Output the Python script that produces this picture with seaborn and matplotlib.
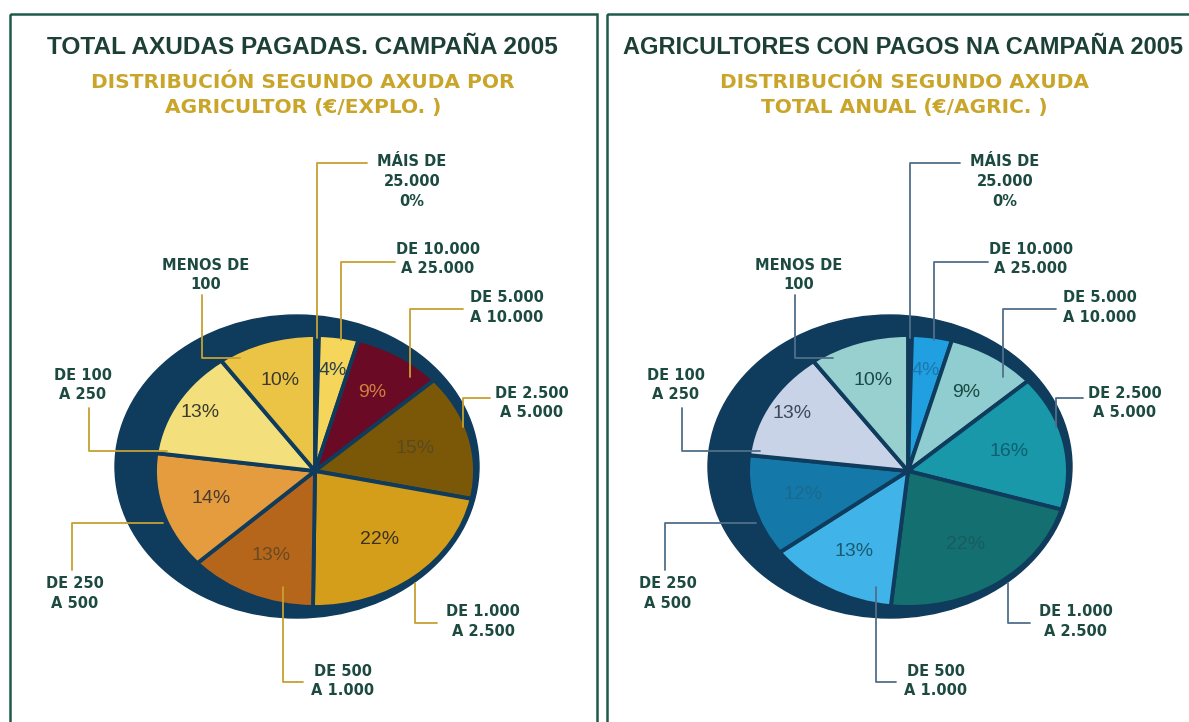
import numpy as np
import matplotlib
matplotlib.use("Agg")
import matplotlib.pyplot as plt
import seaborn as sns
from matplotlib.patches import Ellipse, Rectangle

# ---- data (clockwise from 12 o'clock) ----
categories = ["MÁIS DE\n25.000", "DE 10.000\nA 25.000", "DE 5.000\nA 10.000",
              "DE 2.500\nA 5.000", "DE 1.000\nA 2.500", "DE 500\nA 1.000",
              "DE 250\nA 500", "DE 100\nA 250", "MENOS DE\n100"]
# "0%" bracket is a thin sliver in the original, read as ~0.4
aid_share = [0.4, 4, 9, 15, 22, 13, 14, 13, 10]
farmer_share = [0.4, 4, 9, 16, 22, 13, 12, 13, 10]

titles = ["TOTAL AXUDAS PAGADAS. CAMPAÑA 2005",
          "AGRICULTORES CON PAGOS NA CAMPAÑA 2005"]
subtitles = [["DISTRIBUCIÓN SEGUNDO AXUDA POR", "AGRICULTOR (€/EXPLO. )"],
             ["DISTRIBUCIÓN SEGUNDO AXUDA", "TOTAL ANUAL (€/AGRIC. )"]]

# ---- styles ----
NAVY = "#0f3b5c"
TXT = "#1c4a40"
GOLD = "#c9a52a"
BORDER = "#1f5a4a"
aid_colors = ["#e2ad2c", "#f5d65a", "#6a0a25", "#7a5808", "#d59e1a",
              "#b5661a", "#e49c3e", "#f3e07c", "#ecc445"]
farmer_colors = ["#e8f0f4", "#20a0e0", "#90cdd0", "#1898a8", "#147070",
                 "#40b4e8", "#1478a8", "#c8d3e8", "#98cfcf"]
aid_pct_colors = ["#000", "#2a4050", "#d08040", "#5a4a20", "#3a3020",
                  "#6a4a20", "#4a3a30", "#3a3a30", "#3a3a30"]
farmer_pct_colors = ["#000", "#1a78b0", "#1a4a40", "#0e6070", "#1a5a60",
                     "#1a5a70", "#1a6a90", "#3a4a5a", "#1a4a4a"]
leader_colors = ["#c8a030", "#50708a"]
pct_radius = [0.68, 0.75, 0.68, 0.65, 0.65, 0.68, 0.68, 0.84, 0.7]

# ---- layout (pixels, left panel; right panel is shifted) ----
W, H = 1189, 722
PIE_CX = [315, 908]
PIE_CY, PIE_RX, PIE_RY = 471, 160, 136
SHIFT = [0, 593]
label_pos = [(412, 162), (438, 249), (507, 298), (532, 393), (483, 612),
             (343, 671), (75, 584), (83, 375), (206, 265)]
leaders = [[(367, 163), (317, 163), (317, 338)],
           [(395, 262), (341, 262), (341, 340)],
           [(463, 309), (410, 309), (410, 377)],
           [(490, 398), (463, 398), (463, 427)],
           [(437, 623), (415, 623), (415, 583)],
           [(303, 682), (283, 682), (283, 587)],
           [(72, 570), (72, 523), (163, 523)],
           [(89, 408), (89, 451), (167, 451)],
           [(202, 295), (202, 358), (240, 358)]]

sns.set_theme(style="white")
plt.rcParams["font.family"] = ["DejaVu Sans"]

fig = plt.figure(figsize=(W / 100, H / 100), dpi=100)
fig.patch.set_facecolor("white")


def draw_pie(cx, shares, colors, pct_colors):
    pad = 1.3
    w, h = 2 * pad * PIE_RX, 2 * pad * PIE_RY
    ax = fig.add_axes([(cx - w / 2) / W, (H - PIE_CY - h / 2) / H, w / W, h / H])
    wedges, _ = ax.pie(shares, colors=sns.color_palette(colors), startangle=90,
                       counterclock=False,
                       wedgeprops=dict(edgecolor=NAVY, linewidth=2.8, zorder=2))
    ax.set_aspect("auto")
    ax.set_xlim(-pad, pad)
    ax.set_ylim(-pad, pad)
    # dark 3d-ish backing disc
    ax.add_patch(Ellipse((-0.1125, 0.033), 2.275, 2.228, color=NAVY, zorder=1))
    for wd, v, c, r in zip(wedges, shares, pct_colors, pct_radius):
        if round(v) == 0:
            continue
        mid = np.deg2rad((wd.theta1 + wd.theta2) / 2)
        ax.text(r * np.cos(mid), r * np.sin(mid), f"{round(v)}%", ha="center",
                va="center", fontsize=14, color=c, family="Liberation Sans", zorder=3)
    ax.axis("off")


draw_pie(PIE_CX[0], aid_share, aid_colors, aid_pct_colors)
draw_pie(PIE_CX[1], farmer_share, farmer_colors, farmer_pct_colors)

# overlay for frames, titles, labels and leader lines
ov = fig.add_axes([0, 0, 1, 1])
ov.set_xlim(0, W)
ov.set_ylim(H, 0)
ov.axis("off")
ov.patch.set_alpha(0)

ov.add_patch(Rectangle((10, 14), 587, 800, fill=False, edgecolor=BORDER, lw=1.8))
ov.add_patch(Rectangle((607, 14), 700, 800, fill=False, edgecolor=BORDER, lw=1.8))

title_x = [302, 903]
title_size = [17.6, 17]
for p in range(2):
    dx = SHIFT[p]
    shares = aid_share if p == 0 else farmer_share
    ov.text(title_x[p], 48, titles[p], ha="center", va="center", fontsize=title_size[p],
            fontweight="bold", family="Liberation Sans", color="#1c3f36")
    for i, line in enumerate(subtitles[p]):
        ov.text(title_x[p] + 1, 82 + i * 26, line, ha="center", va="center",
                fontsize=14.5, fontweight="bold", color=GOLD)
    for cat, v, (x, y), pts in zip(categories, shares, label_pos, leaders):
        lines = cat.split("\n")
        if round(v) == 0:
            lines.append("0%")
        for i, line in enumerate(lines):
            ov.text(x + dx, y + i * 19.5, line, ha="center", va="center",
                    fontsize=10.5, fontweight="bold", color=TXT)
        xs = [a + dx for a, _ in pts]
        ys = [b for _, b in pts]
        ov.plot(xs, ys, color=leader_colors[p], lw=1.3)

fig.savefig("out.png", dpi=100, facecolor="white")
